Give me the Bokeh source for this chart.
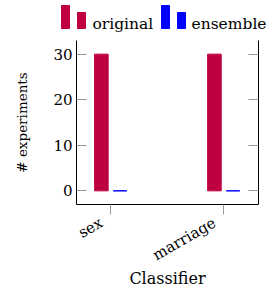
import math
from bokeh.plotting import figure
from bokeh.models import Range1d, FixedTicker, LinearAxis, ColumnDataSource
from bokeh.embed import file_html
from bokeh.resources import INLINE
from bokeh.core.properties import value
from bokeh.transform import dodge

# ---- data ----
classifiers = ["sex", "marriage"]
original = [30, 30]
ensemble = [0, 0]
y_ticks = [0, 10, 20, 30]
series_names = ["original", "ensemble"]

# ---- style ----
RED = "#BF0040"
BLUE = "#0000FF"
FONT = "DejaVu Serif"
TICK_COLOR = "#999999"
W = 273
LABEL_SHIFT = -0.08          # x offset of the rotated category labels
YLABEL_SPAN = (1.8, 33)      # span on which the y-axis title is centred

xs = list(range(len(classifiers)))
src = ColumnDataSource(dict(x=xs, original=original, ensemble=ensemble))

# ---- main plot ----
p = figure(width=W, height=251, output_backend="svg", toolbar_location=None,
           x_range=Range1d(-0.3, 1.31), y_range=Range1d(-3, 33),
           min_border_left=76, min_border_right=15, min_border_top=0,
           min_border_bottom=87)
p.outline_line_color = None
p.grid.visible = False

p.vbar(x=dodge("x", -0.08, range=p.x_range), top="original", width=0.12,
       source=src, fill_color=RED, line_color=RED)
p.vbar(x=dodge("x", 0.085, range=p.x_range), top="ensemble", width=0.12,
       source=src, fill_color=BLUE, line_color=BLUE, line_width=1)

# x axis: line + tick marks only
p.xaxis.ticker = FixedTicker(ticks=xs)
p.xaxis.major_label_overrides = {i: "" for i in xs}
p.xaxis.major_label_text_font_size = "1px"
p.xaxis.major_tick_in = 0
p.xaxis.major_tick_out = 10
p.xaxis.major_label_standoff = 0
p.xaxis.minor_tick_line_color = None
p.xaxis.major_tick_line_color = TICK_COLOR
p.xaxis.axis_line_color = "black"

# x axis: rotated category labels + title
lab_ticks = [x + LABEL_SHIFT for x in xs]
xlab = LinearAxis(ticker=FixedTicker(ticks=lab_ticks),
                  major_label_overrides={t: c for t, c in zip(lab_ticks, classifiers)},
                  major_label_orientation=math.pi / 6,
                  major_label_standoff=7, major_tick_in=0, major_tick_out=0,
                  major_tick_line_color=None, minor_tick_line_color=None,
                  axis_line_color=None,
                  major_label_text_font=FONT, major_label_text_font_size="15px",
                  major_label_text_color="black",
                  axis_label="Classifier", axis_label_standoff=-6,
                  axis_label_text_font=FONT, axis_label_text_font_size="16px",
                  axis_label_text_font_style="normal",
                  axis_label_text_color="black")
p.add_layout(xlab, "below")

# y axis
p.yaxis.ticker = FixedTicker(ticks=y_ticks)
p.yaxis.major_tick_in = 10
p.yaxis.major_tick_out = 0
p.yaxis.major_label_standoff = 4
p.yaxis.minor_tick_line_color = None
p.yaxis.major_tick_line_color = TICK_COLOR
p.yaxis.axis_line_color = "black"
p.yaxis.major_label_text_font = FONT
p.yaxis.major_label_text_font_size = "15px"
p.yaxis.major_label_text_color = "black"

# y-axis title on an invisible helper axis
ylab = LinearAxis(ticker=FixedTicker(ticks=[]), bounds=YLABEL_SPAN,
                  major_label_standoff=0, major_tick_in=0, major_tick_out=0,
                  major_tick_line_color=None, minor_tick_line_color=None,
                  axis_line_color=None,
                  axis_label="# experiments", axis_label_standoff=21,
                  axis_label_text_font=FONT, axis_label_text_font_size="13.5px",
                  axis_label_text_font_style="normal",
                  axis_label_text_color="black")
p.add_layout(ylab, "left")

right = LinearAxis(ticker=FixedTicker(ticks=y_ticks), major_tick_in=10,
                   major_tick_out=0, major_label_standoff=0,
                   major_label_overrides={t: "" for t in y_ticks},
                   minor_tick_line_color=None,
                   major_tick_line_color=TICK_COLOR, axis_line_color="black")
p.add_layout(right, "right")

# ---- legend strip (separate root above the plot, page-pixel coordinates) ----
leg = figure(width=W, height=40, output_backend="svg", toolbar_location=None,
             x_range=Range1d(0, W), y_range=Range1d(40, 0), min_border=0,
             x_axis_location=None, y_axis_location=None)
leg.outline_line_color = None
leg.grid.visible = False

colors = [RED, BLUE]
icon_left = [61, 161]
text_left = [92, 191]
for c, x0 in zip(colors, icon_left):
    leg.quad(left=[x0, x0 + 16], right=[x0 + 8, x0 + 24],
             bottom=[28, 28], top=[5, 12], fill_color=c, line_color=c)
leg.text(x=text_left, y=[23, 23], text=series_names,
         text_font=value(FONT), text_font_size="15.5px",
         text_baseline="alphabetic", text_align="left", text_color="black")

open("out.html", "w").write(file_html([leg, p], INLINE))
